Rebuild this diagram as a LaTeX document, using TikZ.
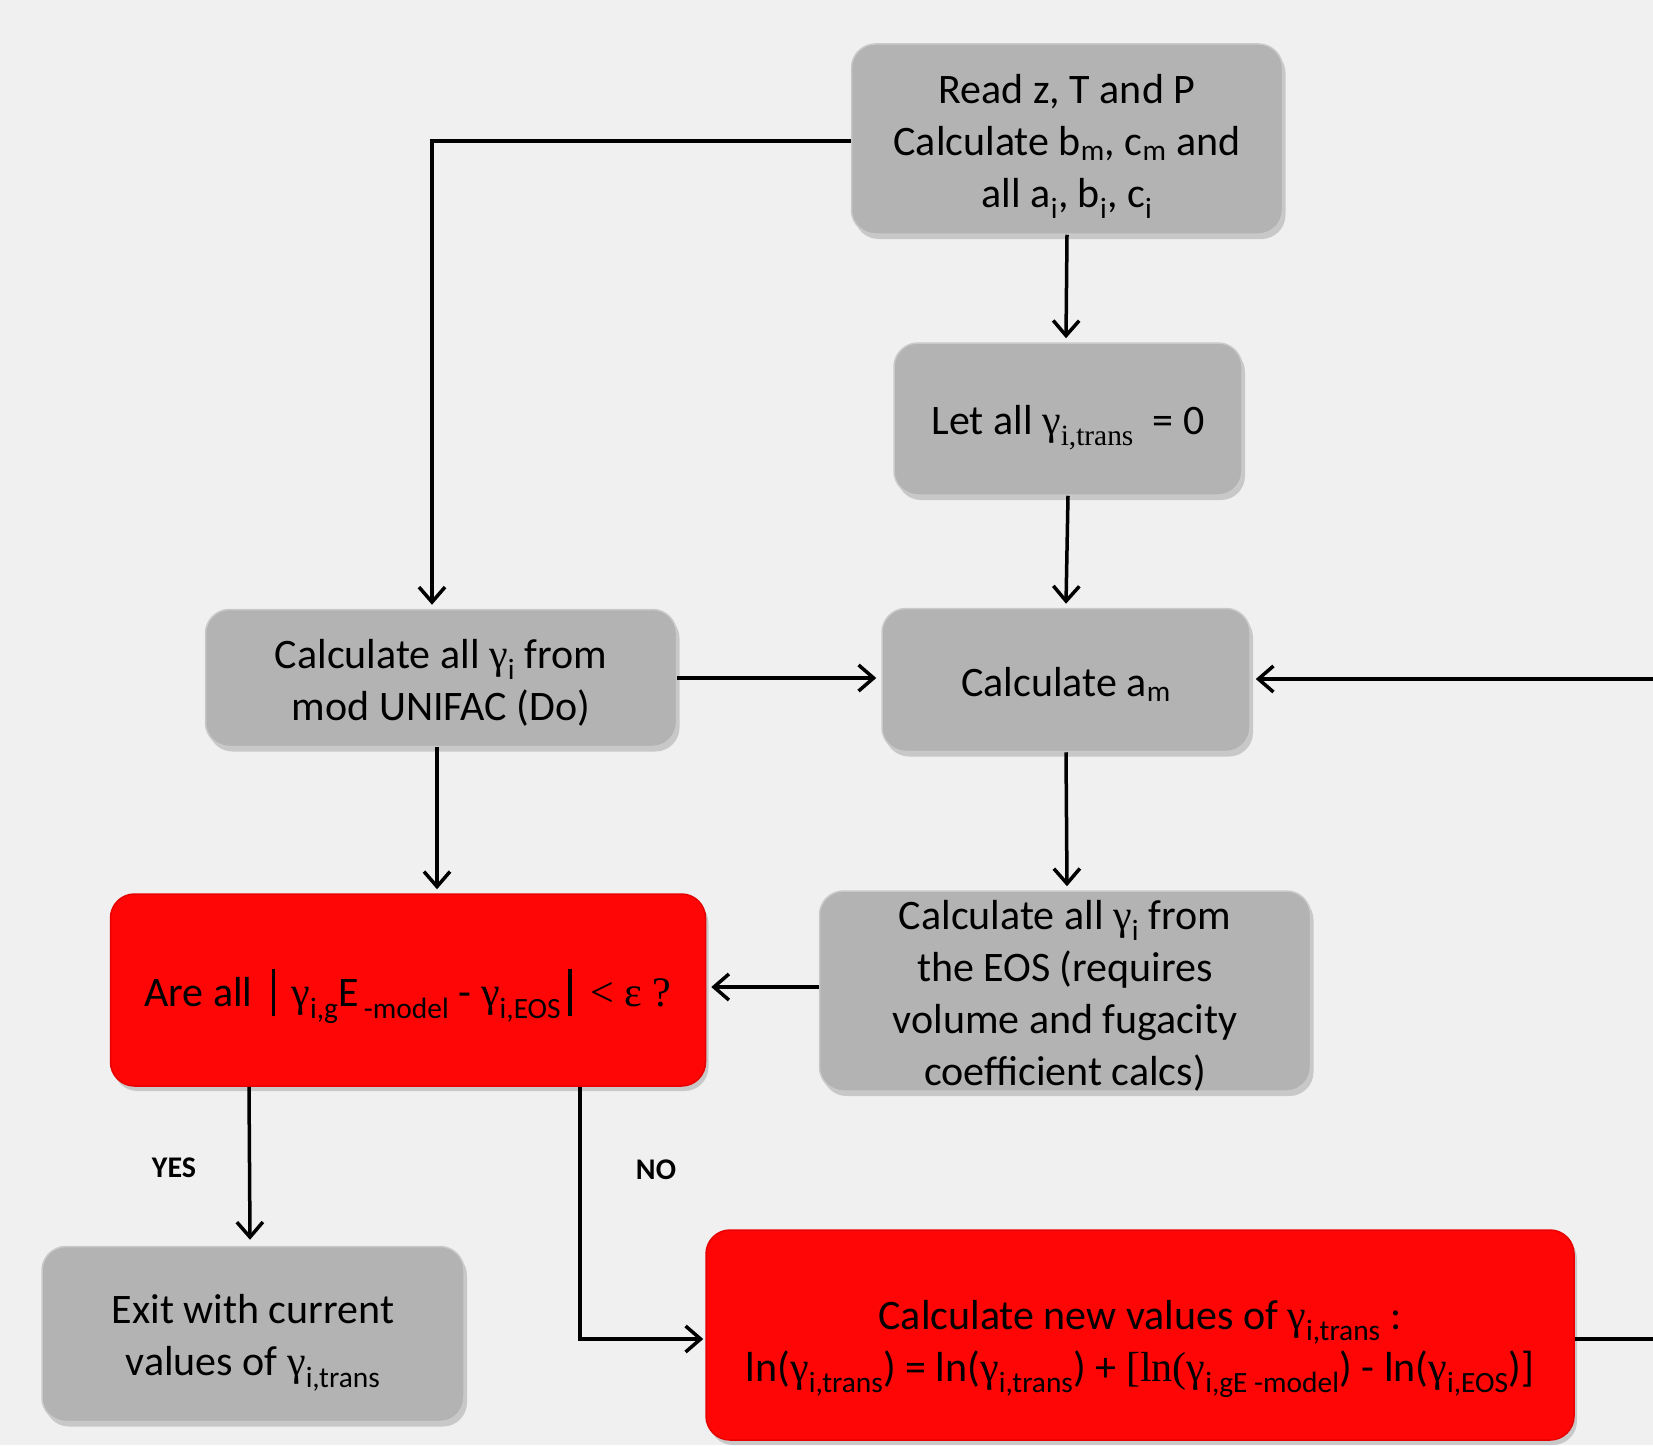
\documentclass[tikz,border=0pt]{standalone}
\usepackage{fontspec}
\setmainfont{Carlito}
\newfontfamily\grk{Liberation Serif}
\usepackage{tikz}
\usetikzlibrary{arrows.meta,positioning,shadows,calc}
\definecolor{bgcol}{HTML}{F0F0F0}
\definecolor{boxgray}{HTML}{B3B3B3}
\definecolor{boxedge}{HTML}{C9C9C9}
\definecolor{alarm}{HTML}{FF0606}
\definecolor{alarmedge}{HTML}{E80000}
\newcommand{\gam}{{\grk γ}}
\newcommand{\lo}[1]{\textsubscript{#1}}
\newcommand{\absbar}{\rule[-9pt]{3.5pt}{47pt}}
\newcommand{\topgap}[1]{\rule{0pt}{#1}}

\begin{document}
\begin{tikzpicture}[x=1pt,y=-1pt,every node/.style={align=center,font=\fontsize{42}{52}\selectfont},procbox/.style={draw=boxedge,line width=1.5pt,fill=boxgray,rounded corners=24pt,inner sep=0pt,drop shadow={opacity=0.35,shadow xshift=3pt,shadow yshift=-5pt}},testbox/.style={procbox,draw=alarmedge,fill=alarm},flow/.style={-{Straight Barb[length=15pt,width=26pt,line width=3.5pt]},line width=3.5pt},tag/.style={font=\fontsize{30}{36}\selectfont\bfseries}]
\useasboundingbox (0,0) rectangle (1653,1445);
\fill[bgcol] (0,0) rectangle (1653,1445);
\node[procbox,minimum width=431pt,minimum height=190pt] (read) at (1067,139) {\topgap{44pt}Read z, T and P\\Calculate b\lo{m}, c\lo{m} and\\all a\lo{i}, b\lo{i}, c\lo{i}};
\node[procbox,minimum width=348pt,minimum height=152pt] (zero) at (1068,419) {\topgap{46pt}Let all \gam{\grk\lo{i,trans}}\ \ = 0};
\node[procbox,minimum width=368pt,minimum height=143pt] (am) at (1066,680) {\topgap{38pt}Calculate a\lo{m}};
\node[procbox,minimum width=471pt,minimum height=137pt] (unifac) at (441,678) {\topgap{38pt}Calculate all \gam\lo{i} from\\mod UNIFAC (Do)};
\node[testbox,minimum width=595pt,minimum height=192pt] (check) at (408,990) {\topgap{50pt}Are all \ \absbar\ \,\gam\lo{i,g}E\lo{\,-model} - \gam\lo{i,EOS}\,\absbar\ \ {\grk< ε ?}};
\node[procbox,minimum width=491pt,minimum height=200pt] (eos) at (1065,991) {\topgap{38pt}Calculate all \gam\lo{i} from\\the EOS (requires\\volume and fugacity\\coefficient calcs)};
\node[procbox,minimum width=422pt,minimum height=175pt] (exit) at (253,1334) {\topgap{47pt}Exit with current\\values of \gam\lo{i,trans}};
\node[testbox,minimum width=868pt,minimum height=210pt] (update) at (1140,1335) {\topgap{57pt}Calculate new values of \gam\lo{i,trans} :\\ln(\gam\lo{i,trans}) = ln(\gam\lo{i,trans}) + {\grk[ln(}\gam\lo{i,gE -model}) - ln(\gam\lo{i,EOS})]};
\coordinate (loopin) at (1653,679);
\coordinate (loopout) at (1653,1339);
\node[tag] (yes) at (174,1168) {YES};
\node[tag] (no) at (656,1170) {NO};
% connectors
\draw[flow] ([yshift=-2pt]read.west) -| ([xshift=-9pt,yshift=4pt]unifac.north);
\draw[flow] (read.south) -- ([xshift=-2pt,yshift=4pt]zero.north);
\draw[flow] (zero.south) -- ([yshift=4pt]am.north);
\draw[flow] (unifac.east) -- ([xshift=-5pt]unifac.east -| am.west);
\draw[flow] (loopin) -- ([xshift=5pt]loopin -| am.east);
\draw[flow] (am.south) -- ([xshift=2pt,yshift=4pt]eos.north);
\draw[flow] ([xshift=-4pt]unifac.south) -- ([xshift=-4pt,yshift=4pt]unifac.south |- check.north);
\draw[flow] ([yshift=4pt]eos.west) -- ([xshift=5pt,yshift=4pt]eos.west -| check.east);
\draw[flow] ([xshift=-4pt]check.south -| exit.north) -- ([xshift=-3pt,yshift=6pt]exit.north);
\draw[flow] ([xshift=172pt]check.south) |- ([xshift=-2pt]loopout -| update.west);
\draw[line width=3.5pt] (loopout -| update.east) -- (loopout);
\end{tikzpicture}
\end{document}
